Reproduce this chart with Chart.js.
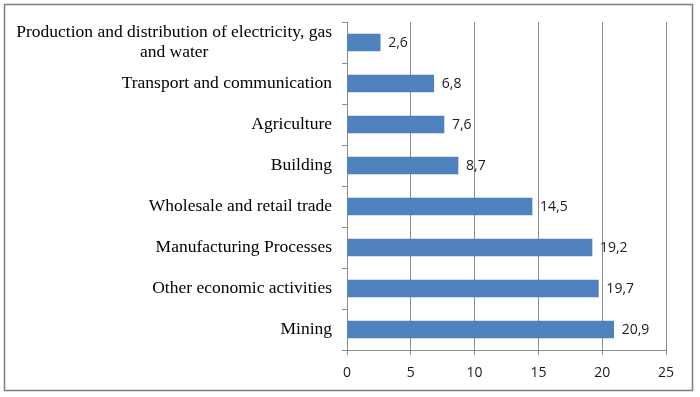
<!DOCTYPE html>
<html>
<head>
<meta charset="utf-8">
<script src="https://cdn.jsdelivr.net/npm/chart.js@4"></script>
<style>
    html, body { margin: 0; padding: 0; background: #fff; }
    #wrap { width: 700px; height: 397px; }
</style>
</head>
<body>
<div id="wrap"><canvas id="chart" width="700" height="397"></canvas></div>
<script>
// Chart data
const categories = [
    ['Production and distribution of electricity, gas', 'and water'],
    ['Transport and communication'],
    ['Agriculture'],
    ['Building'],
    ['Wholesale and retail trade'],
    ['Manufacturing Processes'],
    ['Other economic activities'],
    ['Mining']
];
const shares = [2.6, 6.8, 7.6, 8.7, 14.5, 19.2, 19.7, 20.9];
const xTicks = [0, 5, 10, 15, 20, 25];

const BAR_COLOR = '#4F81BD';
const GRID_COLOR = '#8c8c8c';

/**
 * Frame around the whole chart
 */
const framePlugin = {
    id: 'frame',
    beforeDraw(chart) {
        const ctx = chart.ctx;
        ctx.save();
        ctx.fillStyle = '#fff';
        ctx.fillRect(0, 0, chart.width, chart.height);
        ctx.strokeStyle = '#7f7f7f';
        ctx.lineWidth = 1.5;
        ctx.strokeRect(4.5, 4.5, 688, 386);
        ctx.restore();
    }
};

/**
 * Category labels: right aligned, multi-line labels centred on their first line
 */
const categoryLabelPlugin = {
    id: 'categoryLabels',
    afterDraw(chart) {
        const ctx = chart.ctx;
        const yScale = chart.scales.y;
        const right = 332;
        const lineHeight = 20;
        ctx.save();
        ctx.font = '17.5px "Liberation Serif", "Times New Roman", serif';
        ctx.fillStyle = '#000';
        ctx.textBaseline = 'middle';
        ctx.textAlign = 'center';
        categories.forEach((lines, i) => {
            const y = yScale.getPixelForValue(i);
            const widest = Math.max(...lines.map(l => ctx.measureText(l).width));
            const cx = right - widest / 2;
            const top = y - (lines.length - 1) * lineHeight / 2;
            lines.forEach((line, j) => {
                ctx.fillText(line, cx, top + j * lineHeight);
            });
        });
        ctx.restore();
    }
};

/**
 * Value labels after each bar, with a decimal comma
 */
const valueLabelPlugin = {
    id: 'valueLabels',
    afterDatasetsDraw(chart) {
        const ctx = chart.ctx;
        const meta = chart.getDatasetMeta(0);
        ctx.save();
        ctx.font = '14px "Open Sans", "DejaVu Sans", sans-serif';
        ctx.fillStyle = '#1a1a1a';
        ctx.textBaseline = 'middle';
        ctx.textAlign = 'left';
        meta.data.forEach((bar, i) => {
            const text = shares[i].toFixed(1).replace('.', ',');
            ctx.fillText(text, bar.x + 8, bar.y + 1);
        });
        ctx.restore();
    }
};

const ctx = document.getElementById('chart').getContext('2d');

new Chart(ctx, {
    type: 'bar',
    data: {
        labels: categories.map(c => c.join(' ')),
        datasets: [{
            data: shares,
            backgroundColor: BAR_COLOR,
            borderWidth: 0,
            barThickness: 17
        }]
    },
    options: {
        indexAxis: 'y',
        responsive: false,
        animation: false,
        events: [],
        layout: {
            padding: { top: 22, right: 34, left: 0, bottom: 0 }
        },
        plugins: {
            legend: { display: false },
            tooltip: { enabled: false }
        },
        scales: {
            x: {
                min: 0,
                max: 25,
                afterBuildTicks(scale) {
                    scale.ticks = xTicks.map(v => ({ value: v }));
                },
                afterFit(scale) {
                    scale.height = 47;
                },
                grid: {
                    color: GRID_COLOR,
                    lineWidth: 1,
                    drawTicks: true,
                    tickLength: 5
                },
                border: { color: GRID_COLOR, width: 1 },
                ticks: {
                    color: '#1a1a1a',
                    padding: 10,
                    font: { family: '"Open Sans", "DejaVu Sans", sans-serif', size: 14 }
                }
            },
            y: {
                afterFit(scale) {
                    scale.width = 347;
                },
                grid: {
                    drawOnChartArea: false,
                    drawTicks: true,
                    tickLength: 5,
                    color: GRID_COLOR,
                    offset: true
                },
                border: { color: GRID_COLOR, width: 1 },
                ticks: {
                    color: 'rgba(0,0,0,0)',
                    font: { size: 16 }
                }
            }
        }
    },
    plugins: [framePlugin, categoryLabelPlugin, valueLabelPlugin]
});
</script>
</body>
</html>
